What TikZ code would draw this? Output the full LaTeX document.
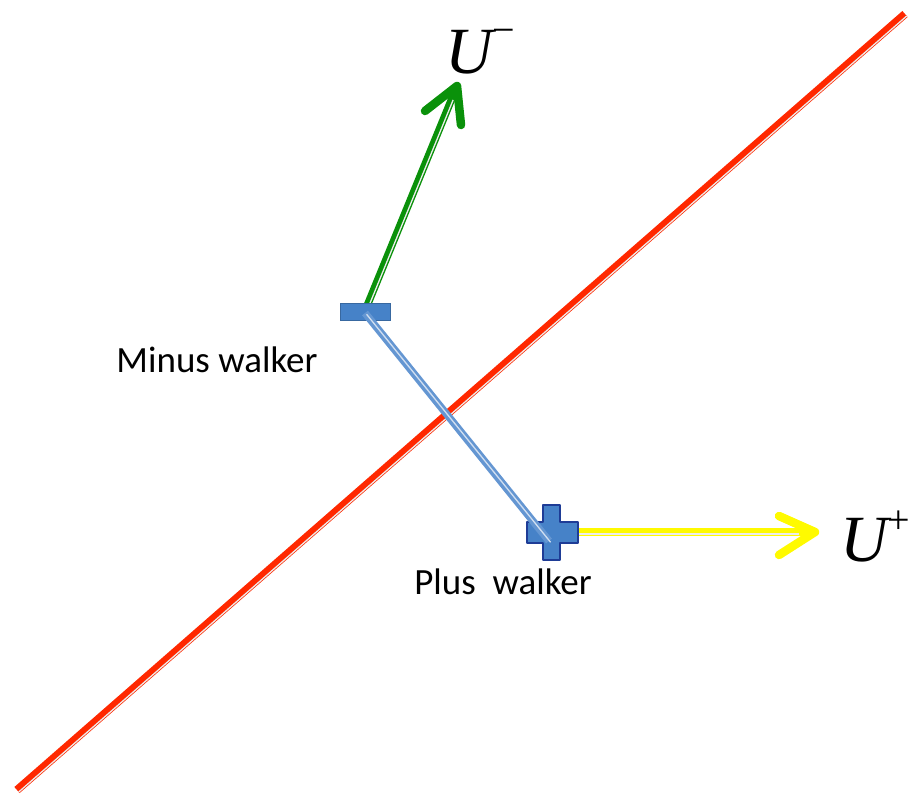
\documentclass[tikz,border=0pt]{standalone}
\usepackage{fontspec}
\setmainfont{Carlito}
\newfontfamily\tnr{Liberation Serif}
\usetikzlibrary{calc}
\definecolor{redl}{RGB}{255,40,0}
\definecolor{greenl}{RGB}{10,145,10}
\definecolor{yell}{RGB}{255,250,0}
\definecolor{bluel}{RGB}{100,150,210}
\definecolor{bluefill}{RGB}{70,130,200}
\definecolor{blueedge}{RGB}{30,60,150}
\tikzset{
  lbl/.style={font=\fontsize{37}{40}\selectfont, inner sep=0pt},
  ulbl/.style={font=\tnr\fontsize{66}{68}\selectfont, inner sep=0pt},
  stripe/.style={white!85!gray, line width=1.3pt},
  head/.style={line width=8.5pt, line cap=round, line join=round},
}
\begin{document}
\begin{tikzpicture}[x=1pt,y=-1pt]
\useasboundingbox (0,0) rectangle (910,798);
% coordinates
\coordinate (r1) at (17,790);
\coordinate (r2) at (905,14);
\coordinate (g1) at (367,306);
\coordinate (g2) at (457,86);
\coordinate (b1) at (365,313);
\coordinate (b2) at (549,541);
\coordinate (y1) at (565,532);
\coordinate (y2) at (815,532);
% red line
\draw[redl, line width=8pt] (r1) -- (r2);
\draw[stripe, transform canvas={shift={(1.7pt,-2.0pt)}}] (r1) -- (r2);
% green arrow
\draw[greenl, line width=7.5pt] (g1) -- ($(g2)!3pt!(g1)$);
\draw[stripe, transform canvas={shift={(2.2pt,0.9pt)}}] (g1) -- ($(g2)!16pt!(g1)$);
\draw[greenl, head] (425,111) -- (g2) -- (461,125);
% yellow arrow
\draw[yell, line width=8pt] (y1) -- ($(y2)!3pt!(y1)$);
\draw[stripe, transform canvas={shift={(0pt,-1.9pt)}}] (y1) -- ($(y2)!16pt!(y1)$);
\draw[yell, head] (779,516) -- (y2) -- (779,555);
% minus walker
\node[draw=bluefill!80!black, line width=0.5pt, fill=bluefill, minimum width=50pt, minimum height=17pt, inner sep=0pt] (minus) at (365,311.5) {};
% plus walker
\coordinate (plus) at (552,532);
\draw[blueedge, line width=1.3pt, fill=bluefill, line join=round]
  (543,505) -- (560,505) -- (560,522) -- (578,522) -- (578,543) -- (560,543) -- (560,560)
  -- (543,560) -- (543,543) -- (527,543) -- (527,522) -- (543,522) -- cycle;
% blue link
\draw[bluel, line width=7.5pt] (b1) -- (b2);
\draw[stripe, white!70!bluel, transform canvas={shift={(1.6pt,-1.3pt)}}] (b1) -- (b2);
% labels
\node[lbl] (ml) at (217,360) {Minus walker};
\node[lbl] (pl) at (503,582) {Plus\ \ walker};
\node[ulbl, anchor=base west] (um) at (445,73) {\itshape U\raisebox{0.45em}{\fontsize{40}{40}\selectfont\upshape −}};
\node[ulbl, anchor=base west] (up) at (840,561) {\itshape U\raisebox{0.42em}{\fontsize{40}{40}\selectfont\upshape +}};
\end{tikzpicture}
\end{document}
